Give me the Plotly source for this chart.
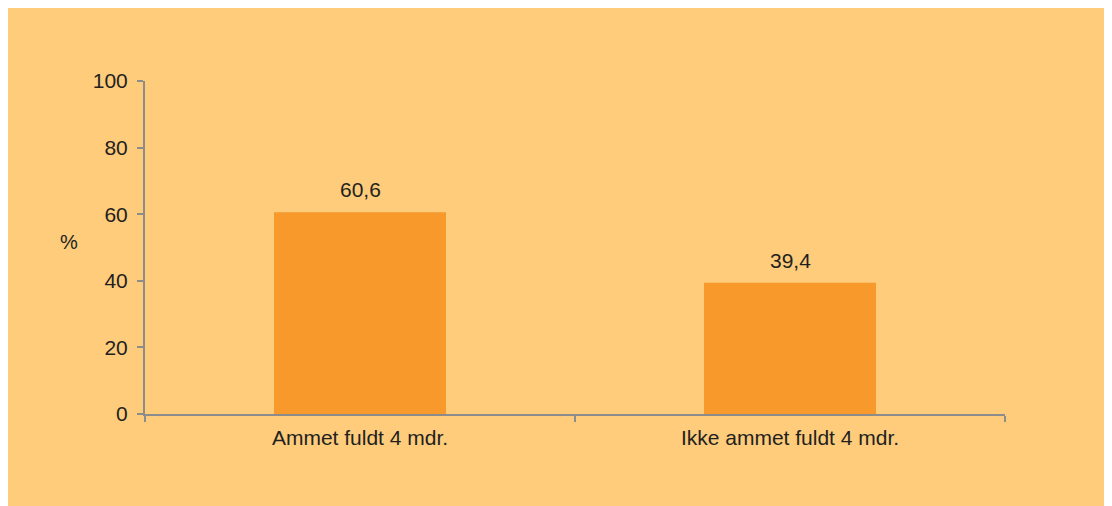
import plotly.graph_objects as go

categories = ["Ammet fuldt 4 mdr.", "Ikke ammet fuldt 4 mdr."]
values = [60.6, 39.4]
y_ticks = [0, 20, 40, 60, 80, 100]
y_title = "%"

BG = "#FECC7B"
BAR = "#F7992B"
AXIS = "#8C8C8C"
TXT = "#231F20"
FONT = "Liberation Sans, Arial, sans-serif"

labels = [f"{v:.1f}".replace(".", ",") for v in values]

fig = go.Figure()
fig.add_trace(go.Bar(x=categories, y=values, marker=dict(color=BAR, line=dict(width=0)),
                     hoverinfo="skip"))

for c, v, t in zip(categories, values, labels):
    fig.add_annotation(x=c, y=v, text=t, showarrow=False, yanchor="bottom",
                       yshift=9, font=dict(family=FONT, size=21, color=TXT))

fig.add_annotation(xref="paper", yref="paper", x=-0.101, y=0.5165, text=y_title,
                   showarrow=False, font=dict(family=FONT, size=20, color=TXT))

W, H = 1112, 498
L, R, T, B = 137, 115, 73, 92

fig.update_layout(
    width=W, height=H,
    margin=dict(l=L, r=R, t=T, b=B),
    paper_bgcolor=BG, plot_bgcolor=BG,
    bargap=0.6, showlegend=False,
    font=dict(family=FONT, color=TXT),
)
fig.update_xaxes(showline=True, linecolor=AXIS, linewidth=2, ticks="outside",
                 tickson="boundaries", ticklen=6, tickwidth=2, tickcolor=AXIS,
                 tickfont=dict(size=21, family=FONT, color=TXT), showgrid=False,
                 ticklabelstandoff=4)
fig.update_yaxes(range=[0, 100], tickvals=y_ticks, showline=True, linecolor=AXIS,
                 linewidth=2, ticks="outside", ticklen=6, tickwidth=2, tickcolor=AXIS,
                 tickfont=dict(size=21, family=FONT, color=TXT), showgrid=False,
                 zeroline=False, ticklabelstandoff=5)

fig.write_html("out.html")
